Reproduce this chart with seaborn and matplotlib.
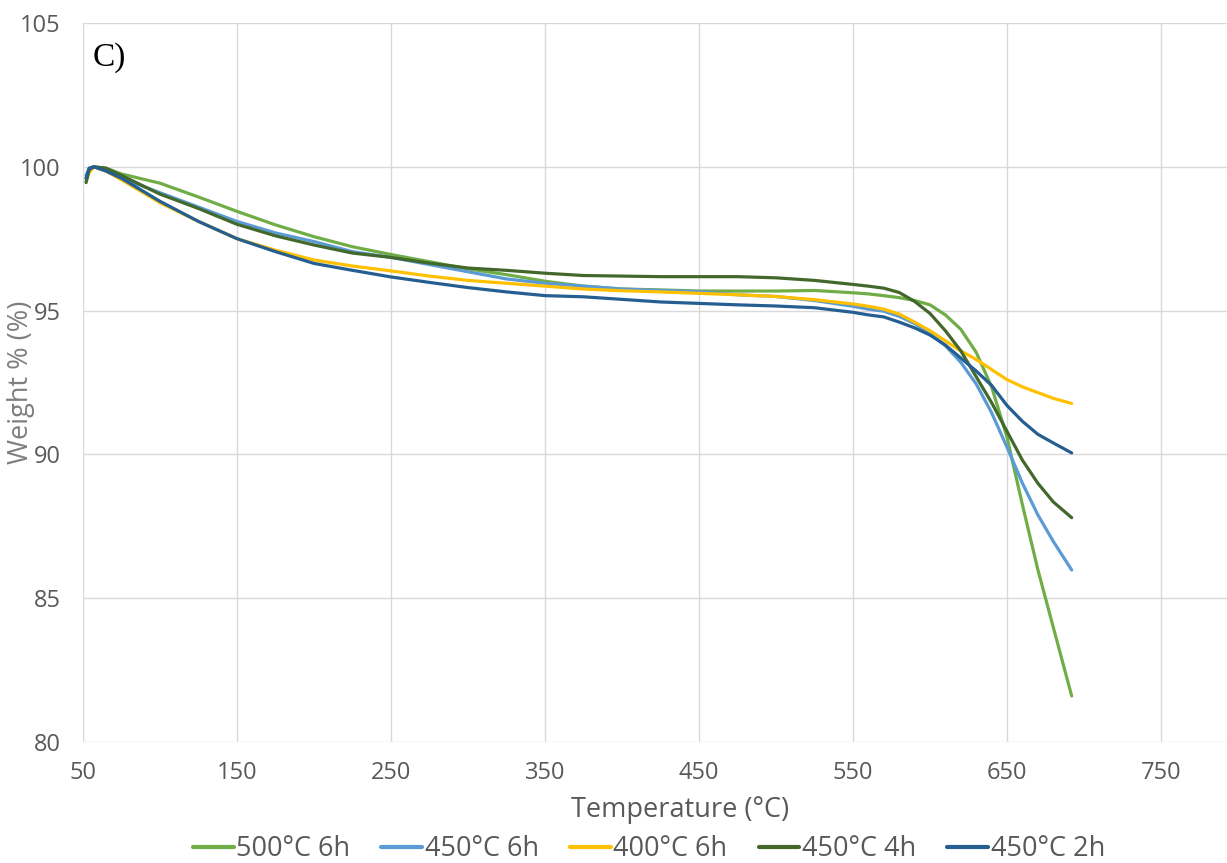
import pandas as pd
import matplotlib.pyplot as plt
import seaborn as sns

# temperature grid (°C)
temperature = [52, 54, 57, 65, 75, 100, 125, 150, 175, 200, 225, 250, 275, 300, 325, 350,
               375, 400, 425, 450, 475, 500, 525, 550, 560, 570, 580, 590, 600, 610, 620,
               630, 640, 650, 660, 670, 680, 692]

w_500_6h = [99.6, 99.9, 100.0, 99.95, 99.75, 99.43, 98.95, 98.45, 97.98, 97.57, 97.22, 96.95,
            96.7, 96.45, 96.25, 96.02, 95.85, 95.75, 95.72, 95.68, 95.68, 95.68, 95.7, 95.62,
            95.58, 95.52, 95.45, 95.35, 95.2, 94.85, 94.35, 93.55, 92.35, 90.6, 88.25, 86.0,
            84.0, 81.6]
w_450_6h = [99.7, 99.95, 100.0, 99.9, 99.6, 99.1, 98.6, 98.1, 97.7, 97.4, 97.05, 96.85,
            96.6, 96.35, 96.1, 95.95, 95.85, 95.75, 95.7, 95.66, 95.55, 95.49, 95.35, 95.15,
            95.05, 94.98, 94.8, 94.55, 94.2, 93.78, 93.2, 92.45, 91.45, 90.25, 89.0, 87.9,
            86.98, 85.98]
w_400_6h = [99.5, 99.8, 100.0, 99.85, 99.55, 98.75, 98.1, 97.5, 97.1, 96.76, 96.55, 96.38,
            96.2, 96.05, 95.95, 95.85, 95.75, 95.69, 95.65, 95.6, 95.55, 95.49, 95.38, 95.23,
            95.15, 95.05, 94.88, 94.6, 94.3, 93.95, 93.6, 93.3, 92.95, 92.6, 92.35, 92.15,
            91.95, 91.77]
w_450_4h = [99.45, 99.9, 100.0, 99.95, 99.7, 99.05, 98.55, 98.0, 97.6, 97.28, 97.0, 96.85,
            96.65, 96.48, 96.4, 96.3, 96.22, 96.2, 96.18, 96.18, 96.18, 96.14, 96.05, 95.91,
            95.85, 95.78, 95.63, 95.32, 94.9, 94.3, 93.6, 92.7, 91.8, 90.8, 89.8, 89.0,
            88.35, 87.8]
w_450_2h = [99.6, 99.95, 100.0, 99.85, 99.6, 98.8, 98.1, 97.5, 97.05, 96.64, 96.4, 96.17,
            95.98, 95.8, 95.65, 95.52, 95.48, 95.39, 95.3, 95.25, 95.2, 95.16, 95.1, 94.94,
            94.85, 94.78, 94.6, 94.4, 94.15, 93.8, 93.35, 92.9, 92.4, 91.7, 91.15, 90.7,
            90.4, 90.05]

series_names = ['500°C 6h', '450°C 6h', '400°C 6h', '450°C 4h', '450°C 2h']
series_vals = [w_500_6h, w_450_6h, w_400_6h, w_450_4h, w_450_2h]
colors = ['#70AD47', '#5B9BD5', '#FFC000', '#43682B', '#255E91']

df = pd.concat([
    pd.DataFrame({'Temperature': temperature, 'Weight': vals, 'Sample': name})
    for name, vals in zip(series_names, series_vals)
], ignore_index=True)

sns.set_theme(style="white")
plt.rcParams['font.family'] = ['Open Sans', 'DejaVu Sans']

fig = plt.figure(figsize=(12.27, 8.63), dpi=100)
# axes run slightly past the right edge, like the cropped original
ax = fig.add_axes([83 / 1227, 1 - 742 / 863, 1155 / 1227, (742 - 23) / 863])

sns.lineplot(data=df, x='Temperature', y='Weight', hue='Sample', hue_order=series_names,
             palette=colors, estimator=None, sort=False, linewidth=2.3, ax=ax)

ax.set_xlim(50, 800)
ax.set_ylim(80, 105)
ax.set_xticks(range(50, 800, 100))
ax.set_yticks(range(80, 106, 5))
ax.grid(True, color='#D9D9D9', linewidth=1.0)
ax.set_axisbelow(True)
for s in ax.spines.values():
    s.set_visible(False)
ax.tick_params(axis='both', length=0, labelsize=17, labelcolor='#595959')
ax.tick_params(axis='y', pad=16)
ax.tick_params(axis='x', pad=14)

ax.set_xlabel('Temperature (°C)', fontsize=19.5, color='#595959')
ax.set_ylabel('Weight % (%)', fontsize=19.5, color='#7F7F7F')
ax.xaxis.set_label_coords((680 - 83) / 1155, -(810 - 742) / 719)
ax.xaxis.label.set_va('center')
ax.yaxis.set_label_coords(-(83 - 21) / 1155, 0.5)
ax.yaxis.label.set_va('center')

ax.text((93 - 83) / 1155, 1 - (42 - 23) / 719, 'C)', fontsize=24, family='Liberation Serif',
        color='black', va='top', transform=ax.transAxes)

sns.move_legend(ax, 'center', bbox_to_anchor=((649 - 83) / 1155, -(849 - 742) / 719),
                ncol=5, frameon=False, title=None, fontsize=19.5, handlelength=1.5,
                handletextpad=0.1, columnspacing=1.15, labelcolor='#595959', borderpad=0)
for line in ax.get_legend().get_lines():
    line.set_linewidth(3)

fig.savefig('out.png', dpi=100)
